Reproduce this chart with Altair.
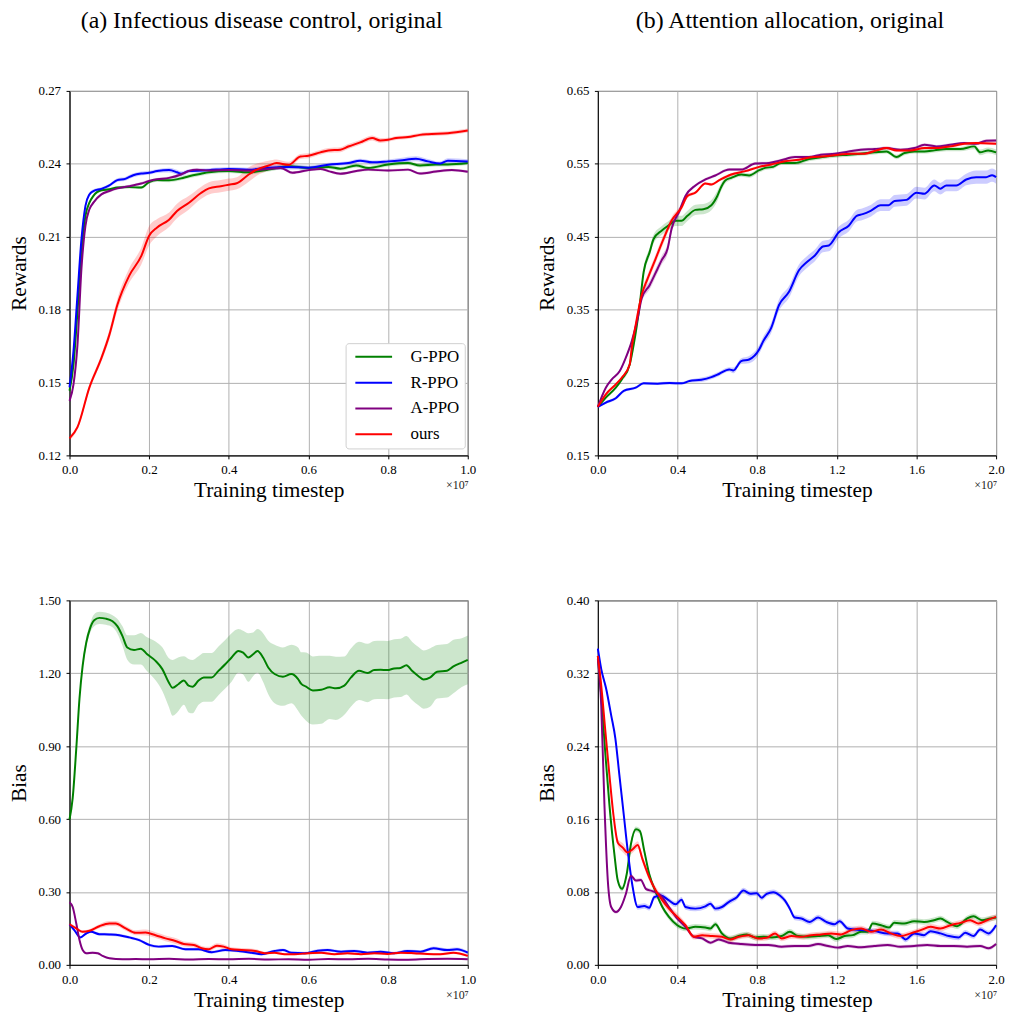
import altair as alt
import pandas as pd

SERIES = ["G-PPO", "R-PPO", "A-PPO", "ours"]
COLORS = ["#008000", "#0000ff", "#800080", "#ff0000"]
FONT = "Liberation Serif"

# ---------------- (a) top: rewards, infectious disease control ----------------
TL_G = [(0, .1466, .001), (.01, .1574, .001), (.02, .1792, .001), (.03, .2037, .001), (.04, .2186, .001),
        (.05, .224, .0008), (.06, .2268, .0006), (.08, .2291, .0006), (.1, .2295, .0006), (.12, .2302, .0006),
        (.15, .2304, .0006), (.18, .2302, .0006), (.2, .2325, .0007), (.22, .2333, .0008), (.25, .2332, .0008),
        (.28, .234, .0008), (.3, .2349, .0008), (.33, .2359, .0008), (.35, .2365, .0008), (.4, .237, .0008),
        (.45, .2365, .0008), (.5, .2376, .0008), (.55, .239, .0008), (.6, .2383, .0008), (.65, .2387, .0008),
        (.68, .238, .0008), (.72, .2393, .0008), (.75, .2383, .0008), (.8, .2397, .0008), (.85, .2403, .0008),
        (.88, .2393, .0008), (.92, .2397, .0008), (.95, .2397, .0008), (1.0, .2403, .0008)]
TL_B = [(0, .148, .001), (.01, .163, .001), (.02, .186, .001), (.03, .209, .001), (.04, .2227, .001),
        (.05, .2274, .0008), (.06, .2288, .0007), (.08, .2297, .0007), (.1, .2311, .0007), (.12, .2333, .0008),
        (.14, .2338, .0008), (.16, .2353, .0008), (.18, .236, .0008), (.2, .2363, .0008), (.22, .237, .0008),
        (.25, .2374, .001), (.27, .2365, .001), (.28, .2359, .001), (.3, .237, .0008), (.35, .2374, .0008),
        (.4, .2379, .0008), (.45, .2376, .0008), (.5, .2384, .001), (.55, .2387, .001), (.6, .2384, .0008),
        (.65, .2396, .0008), (.7, .2403, .0008), (.73, .2413, .0008), (.76, .2406, .0008), (.8, .241, .0008),
        (.83, .2414, .001), (.87, .2421, .001), (.9, .241, .001), (.93, .2401, .0008), (.95, .2413, .001),
        (1.0, .2409, .001)]
TL_A = [(0, .1424, .001), (.01, .1492, .001), (.02, .1656, .001), (.03, .1969, .001), (.04, .2145, .001),
        (.05, .2213, .0008), (.06, .224, .0007), (.08, .2274, .0006), (.1, .2288, .0006), (.12, .2299, .0006),
        (.15, .2308, .0006), (.18, .2319, .0006), (.2, .2329, .0006), (.22, .2336, .0006), (.25, .2342, .0006),
        (.28, .2356, .0006), (.3, .2371, .0006), (.32, .2376, .0006), (.35, .2372, .0006), (.4, .2374, .0006),
        (.45, .2372, .0006), (.5, .2379, .0006), (.53, .2383, .0006), (.56, .2363, .0006), (.6, .2374, .0006),
        (.63, .2379, .0006), (.65, .237, .0006), (.68, .2359, .0006), (.72, .237, .0006), (.75, .2376, .0006),
        (.8, .2372, .0006), (.85, .2376, .0006), (.88, .236, .0006), (.92, .2368, .0006), (.96, .2374, .0006),
        (1.0, .2367, .0006)]
TL_R = [(0, .127, .001), (.02, .1316, .001), (.05, .148, .0012), (.08, .160, .0015), (.1, .1696, .002),
        (.12, .1819, .0025), (.15, .194, .003), (.18, .202, .0035), (.2, .2104, .004), (.22, .2138, .0035),
        (.25, .217, .003), (.27, .2206, .003), (.3, .224, .0028), (.33, .228, .0025), (.35, .2299, .0025),
        (.38, .2308, .0025), (.4, .2314, .0025), (.42, .232, .0025), (.45, .2356, .003), (.47, .2376, .0025),
        (.5, .2393, .002), (.52, .2403, .0015), (.55, .2396, .0012), (.58, .243, .001), (.6, .2433, .001),
        (.63, .2447, .001), (.65, .2455, .001), (.68, .2458, .001), (.7, .2471, .001), (.73, .2488, .001),
        (.76, .2506, .001), (.78, .2496, .001), (.8, .2499, .0008), (.82, .2506, .0008), (.85, .251, .0008),
        (.88, .2519, .0008), (.9, .2522, .0008), (.95, .2526, .0008), (1.0, .2537, .0008)]

# ---------------- (b) top: rewards, attention allocation ----------------
TR_G = [(0, .2166, .002), (.04, .2293, .002), (.09, .2429, .002), (.12, .2542, .003), (.16, .2746, .004),
        (.18, .3019, .005), (.21, .3563, .006), (.23, .4016, .006), (.26, .4288, .006), (.28, .4469, .006),
        (.32, .4582, .006), (.36, .4664, .006), (.39, .4718, .007), (.42, .4718, .007), (.45, .4787, .007),
        (.49, .4868, .007), (.53, .4877, .007), (.57, .4932, .007), (.6, .5059, .007), (.62, .5185, .005),
        (.64, .5271, .004), (.67, .5308, .003), (.72, .5353, .003), (.76, .534, .003), (.81, .5412, .003),
        (.84, .5444, .003), (.88, .5458, .003), (.92, .5512, .003), (.99, .5512, .003), (1.06, .5566, .003),
        (1.12, .5589, .003), (1.19, .5612, .003), (1.26, .5625, .003), (1.32, .5639, .003), (1.39, .5657, .003),
        (1.45, .567, .003), (1.5, .5593, .003), (1.54, .5648, .003), (1.59, .567, .003), (1.64, .567, .003),
        (1.69, .5684, .003), (1.75, .5702, .003), (1.82, .5702, .003), (1.89, .5739, .004), (1.92, .5657, .004),
        (1.96, .5684, .004), (2.0, .5657, .004)]
TR_B = [(0, .2166, .002), (.04, .2225, .002), (.09, .2284, .002), (.13, .2384, .002), (.19, .2429, .002),
        (.23, .2488, .002), (.3, .2484, .002), (.36, .2493, .002), (.42, .2488, .002), (.46, .252, .002),
        (.52, .2538, .003), (.57, .2574, .003), (.61, .262, .003), (.66, .2679, .003), (.68, .2665, .004),
        (.72, .2792, .004), (.76, .2815, .005), (.81, .2951, .006), (.83, .3064, .006), (.87, .3245, .007),
        (.91, .3563, .008), (.96, .3744, .008), (1.01, .4039, .008), (1.05, .4152, .008), (1.09, .4243, .008),
        (1.13, .4365, .008), (1.16, .4379, .008), (1.21, .456, .008), (1.26, .4651, .008), (1.3, .4787, .008),
        (1.33, .4809, .008), (1.37, .4855, .008), (1.42, .4932, .008), (1.46, .4932, .008), (1.49, .4991, .008),
        (1.55, .5005, .008), (1.6, .5104, .008), (1.64, .509, .008), (1.69, .5203, .008), (1.72, .5158, .008),
        (1.75, .5203, .008), (1.8, .5203, .008), (1.85, .5285, .008), (1.9, .5317, .009), (1.95, .5317, .009),
        (1.98, .5344, .009), (2.0, .5317, .009)]
TR_A = [(0, .2166, .002), (.04, .2429, .002), (.07, .2542, .002), (.11, .2656, .002), (.14, .2837, .002),
        (.17, .3064, .003), (.2, .3381, .004), (.22, .3653, .005), (.26, .3835, .006), (.3, .4061, .006),
        (.32, .4175, .006), (.35, .4333, .007), (.37, .4605, .006), (.41, .4855, .005), (.44, .5059, .003),
        (.49, .5203, .002), (.54, .5285, .002), (.59, .534, .002), (.66, .5421, .002), (.72, .5421, .002),
        (.79, .5503, .002), (.86, .5512, .002), (.92, .5548, .002), (.99, .5593, .002), (1.06, .5593, .002),
        (1.12, .5625, .002), (1.19, .5639, .002), (1.26, .567, .002), (1.32, .5693, .002), (1.39, .5702, .002),
        (1.45, .5716, .002), (1.52, .5693, .002), (1.59, .5716, .002), (1.64, .5761, .002), (1.7, .5739, .002),
        (1.77, .5761, .002), (1.84, .5784, .002), (1.9, .5775, .002), (1.95, .5816, .002), (2.0, .582, .002)]
TR_R = [(0, .2166, .002), (.04, .2338, .002), (.09, .2475, .002), (.12, .2565, .002), (.16, .2746, .003),
        (.17, .2973, .004), (.19, .329, .005), (.22, .3699, .006), (.25, .3925, .006), (.29, .4197, .006),
        (.33, .4469, .006), (.37, .4718, .005), (.42, .49, .004), (.45, .5059, .003), (.49, .5104, .002),
        (.54, .5231, .002), (.57, .5217, .002), (.61, .5276, .002), (.67, .5353, .002), (.74, .5399, .002),
        (.81, .5458, .002), (.87, .549, .002), (.94, .5535, .002), (1.01, .5557, .002), (1.07, .5589, .002),
        (1.14, .5603, .002), (1.21, .5625, .002), (1.27, .5639, .002), (1.34, .5639, .002), (1.4, .5684, .002),
        (1.45, .5716, .002), (1.5, .5684, .002), (1.57, .5684, .002), (1.64, .5716, .002), (1.7, .5716, .002),
        (1.77, .5739, .002), (1.84, .5775, .002), (1.9, .5784, .002), (2.0, .5775, .002)]

# ---------------- (a) bottom: bias, infectious disease control ----------------
BL_G = [(0, .598, .01), (.008, .687, .01), (.017, .891, .015), (.025, 1.095, .015), (.033, 1.231, .02),
        (.042, 1.326, .02), (.052, 1.387, .02), (.062, 1.418, .025), (.075, 1.428, .025), (.091, 1.425, .025),
        (.108, 1.414, .025), (.12, 1.394, .03), (.133, 1.353, .04), (.145, 1.306, .05), (.162, 1.296, .06),
        (.179, 1.301, .065), (.195, 1.278, .07), (.216, 1.251, .08), (.233, 1.217, .09), (.249, 1.163, .1),
        (.259, 1.14, .115), (.274, 1.156, .11), (.287, 1.17, .1), (.299, 1.149, .11), (.309, 1.145, .11),
        (.324, 1.17, .1), (.337, 1.183, .1), (.357, 1.183, .1), (.374, 1.21, .1), (.391, 1.237, .1),
        (.407, 1.265, .1), (.424, 1.292, .09), (.436, 1.285, .09), (.449, 1.265, .1), (.461, 1.278, .09),
        (.472, 1.292, .09), (.486, 1.265, .1), (.499, 1.224, .11), (.515, 1.197, .12), (.536, 1.186, .12),
        (.557, 1.197, .12), (.574, 1.176, .13), (.582, 1.156, .13), (.594, 1.145, .14), (.611, 1.129, .14),
        (.632, 1.132, .14), (.653, 1.142, .13), (.669, 1.138, .13), (.69, 1.149, .12), (.707, 1.183, .12),
        (.727, 1.21, .12), (.748, 1.201, .12), (.765, 1.213, .12), (.781, 1.214, .12), (.798, 1.213, .12),
        (.815, 1.22, .12), (.831, 1.222, .12), (.846, 1.233, .12), (.86, 1.21, .12), (.877, 1.187, .12),
        (.889, 1.174, .12), (.906, 1.183, .12), (.923, 1.206, .11), (.948, 1.21, .11), (.964, 1.228, .11),
        (.985, 1.244, .1), (1.0, 1.255, .1)]
BL_B = [(0, .167, .005), (.012, .143, .005), (.027, .113, .005), (.042, .129, .005), (.054, .136, .005),
        (.075, .126, .006), (.1, .125, .006), (.125, .122, .006), (.15, .113, .006), (.175, .102, .006),
        (.2, .082, .006), (.224, .075, .006), (.258, .078, .006), (.291, .064, .006), (.324, .064, .006),
        (.357, .052, .006), (.391, .061, .006), (.424, .057, .006), (.457, .05, .006), (.482, .044, .006),
        (.515, .057, .006), (.536, .061, .006), (.557, .05, .006), (.59, .048, .006), (.623, .058, .006),
        (.648, .061, .006), (.682, .054, .006), (.715, .057, .006), (.748, .05, .006), (.781, .054, .006),
        (.815, .048, .006), (.848, .057, .006), (.881, .054, .006), (.914, .068, .007), (.948, .061, .007),
        (.973, .064, .007), (1.0, .05, .007)]
BL_A = [(0, .258, .005), (.008, .238, .005), (.017, .17, .005), (.025, .102, .005), (.033, .061, .005),
        (.042, .048, .005), (.058, .05, .005), (.071, .048, .005), (.083, .037, .004), (.1, .027, .004),
        (.133, .023, .003), (.166, .024, .003), (.2, .023, .003), (.25, .025, .003), (.3, .022, .003),
        (.35, .024, .003), (.4, .023, .003), (.45, .025, .003), (.5, .022, .003), (.55, .023, .003),
        (.6, .021, .003), (.65, .024, .003), (.7, .023, .003), (.75, .025, .003), (.8, .022, .003),
        (.85, .021, .003), (.9, .024, .003), (.95, .025, .003), (1.0, .023, .003)]
BL_R = [(0, .167, .006), (.017, .15, .006), (.033, .136, .006), (.05, .14, .007), (.075, .159, .008),
        (.1, .17, .01), (.116, .17, .01), (.141, .15, .01), (.166, .132, .01), (.191, .133, .012),
        (.216, .122, .012), (.241, .109, .012), (.266, .098, .012), (.287, .086, .01), (.312, .082, .01),
        (.332, .068, .01), (.349, .064, .01), (.37, .079, .01), (.387, .075, .01), (.407, .064, .008),
        (.432, .061, .008), (.466, .057, .008), (.49, .048, .006), (.515, .05, .005), (.54, .044, .005),
        (.565, .044, .005), (.599, .048, .005), (.632, .05, .005), (.665, .044, .005), (.698, .048, .005),
        (.732, .044, .005), (.765, .048, .005), (.798, .045, .005), (.831, .05, .005), (.865, .048, .005),
        (.898, .045, .005), (.931, .044, .005), (.964, .05, .005), (1.0, .037, .005)]

# ---------------- (b) bottom: bias, attention allocation ----------------
BR_G = [(0, .339, .003), (.017, .2956, .003), (.038, .2303, .003), (.058, .1759, .003), (.083, .1215, .003),
        (.1, .0925, .003), (.121, .0834, .003), (.145, .0997, .003), (.166, .1324, .003), (.191, .1487, .003),
        (.211, .1469, .003), (.233, .1251, .003), (.258, .0997, .003), (.291, .0798, .003), (.324, .0635, .003),
        (.357, .0526, .003), (.399, .0435, .003), (.44, .0399, .003), (.49, .0417, .003), (.54, .041, .003),
        (.565, .0399, .003), (.59, .0446, .003), (.623, .0345, .003), (.665, .029, .003), (.707, .0316, .003),
        (.748, .0334, .003), (.79, .0301, .003), (.831, .0308, .003), (.873, .0301, .003), (.923, .0316, .003),
        (.964, .0363, .003), (1.006, .0316, .003), (1.056, .0308, .003), (1.106, .0316, .003), (1.156, .0326, .003),
        (1.197, .0283, .003), (1.239, .0316, .003), (1.28, .0326, .003), (1.322, .0363, .003), (1.355, .0363, .003),
        (1.38, .0453, .003), (1.422, .0435, .003), (1.463, .041, .003), (1.488, .0461, .003), (1.538, .0453, .003),
        (1.588, .0479, .003), (1.638, .0471, .003), (1.688, .049, .003), (1.721, .0508, .003), (1.754, .0471, .003),
        (1.804, .0424, .003), (1.854, .0508, .003), (1.887, .0533, .003), (1.929, .049, .003), (1.971, .0508, .003),
        (2.0, .0519, .003)]
BR_B = [(0, .347, .003), (.017, .3246, .003), (.042, .3028, .003), (.067, .2738, .003), (.088, .2484, .003),
        (.108, .2085, .003), (.13, .165, .003), (.15, .1251, .003), (.175, .0852, .003), (.2, .0635, .003),
        (.233, .0646, .003), (.258, .0627, .003), (.283, .0743, .003), (.316, .0762, .003), (.357, .0707, .003),
        (.39, .0664, .003), (.42, .0714, .003), (.44, .0635, .003), (.49, .0617, .003), (.54, .0642, .003),
        (.565, .0671, .003), (.59, .0617, .003), (.623, .0635, .003), (.657, .0689, .003), (.698, .0743, .003),
        (.731, .0816, .003), (.765, .078, .003), (.798, .0787, .003), (.823, .0736, .003), (.848, .078, .003),
        (.881, .0798, .003), (.914, .0762, .003), (.939, .0707, .003), (.964, .0617, .003), (.989, .0519, .003),
        (1.022, .0508, .003), (1.064, .0471, .003), (1.106, .0519, .003), (1.147, .0471, .003), (1.189, .0446, .003),
        (1.214, .0479, .003), (1.255, .0399, .003), (1.322, .0381, .003), (1.388, .037, .003), (1.455, .0345, .003),
        (1.505, .0345, .003), (1.546, .0279, .003), (1.588, .0345, .003), (1.638, .0326, .003), (1.671, .037, .003),
        (1.721, .0345, .003), (1.763, .0316, .003), (1.812, .0301, .003), (1.845, .0352, .003), (1.887, .0316, .003),
        (1.92, .0388, .003), (1.962, .0345, .003), (2.0, .0435, .003)]
BR_A = [(0, .3354, .002), (.017, .2847, .002), (.033, .1759, .002), (.05, .0925, .002), (.067, .0635, .002),
        (.091, .058, .002), (.116, .0635, .002), (.141, .078, .002), (.166, .0979, .002), (.191, .0925, .002),
        (.216, .0932, .002), (.241, .0834, .002), (.274, .0809, .002), (.316, .0762, .002), (.357, .0635, .002),
        (.399, .0508, .002), (.44, .0417, .002), (.482, .0308, .002), (.524, .029, .002), (.565, .0243, .002),
        (.607, .0279, .002), (.657, .0243, .002), (.723, .0228, .002), (.79, .0218, .002), (.856, .0218, .002),
        (.923, .0199, .002), (.989, .0207, .002), (1.056, .0207, .002), (1.106, .0228, .002), (1.156, .0207, .002),
        (1.206, .0189, .002), (1.255, .0207, .002), (1.322, .0192, .002), (1.388, .0207, .002), (1.455, .0218, .002),
        (1.521, .0199, .002), (1.588, .0207, .002), (1.654, .0218, .002), (1.721, .0207, .002), (1.787, .0207, .002),
        (1.854, .0199, .002), (1.92, .0207, .002), (1.962, .0181, .002), (2.0, .0228, .002)]
BR_R = [(0, .339, .003), (.017, .3065, .003), (.038, .2557, .003), (.058, .2085, .003), (.078, .165, .004),
        (.1, .1342, .004), (.125, .1287, .005), (.15, .1233, .004), (.175, .1269, .004), (.2, .1316, .004),
        (.224, .116, .004), (.258, .0961, .004), (.291, .0816, .004), (.324, .0707, .004), (.357, .0617, .004),
        (.399, .0526, .004), (.44, .0435, .003), (.482, .0308, .003), (.524, .0326, .003), (.574, .0316, .003),
        (.623, .0308, .003), (.665, .0279, .003), (.707, .0308, .003), (.756, .0326, .003), (.806, .029, .003),
        (.848, .0297, .003), (.89, .0345, .003), (.923, .029, .003), (.973, .0316, .003), (1.022, .0308, .003),
        (1.072, .0326, .003), (1.122, .0334, .003), (1.172, .0345, .003), (1.222, .0334, .003), (1.272, .0381, .003),
        (1.322, .0399, .003), (1.372, .0363, .003), (1.422, .0388, .003), (1.471, .0345, .003), (1.521, .0316, .003),
        (1.571, .0345, .003), (1.621, .0381, .003), (1.671, .0417, .003), (1.721, .0399, .003), (1.771, .0435, .003),
        (1.821, .0461, .003), (1.87, .049, .003), (1.912, .0453, .003), (1.954, .049, .003), (2.0, .0526, .003)]

X_TICKS_A = [0.0, 0.2, 0.4, 0.6, 0.8, 1.0]
X_TICKS_B = [0.0, 0.4, 0.8, 1.2, 1.6, 2.0]
Y_TICKS_TL = [0.12, 0.15, 0.18, 0.21, 0.24, 0.27]
Y_TICKS_TR = [0.15, 0.25, 0.35, 0.45, 0.55, 0.65]
Y_TICKS_BL = [0.0, 0.3, 0.6, 0.9, 1.2, 1.5]
Y_TICKS_BR = [0.0, 0.08, 0.16, 0.24, 0.32, 0.40]
SCALE_NOTE = "\u00d710\u2077"

W, H = 401, 367


def frame(pts, name):
    df = pd.DataFrame(pts, columns=["x", "y", "e"])
    df["lo"] = df["y"] - df["e"]
    df["hi"] = df["y"] + df["e"]
    df["s"] = name
    return df


def panel(series, xmax, xticks, ydom, yticks, ytitle, title=None, legend=False):
    xenc = alt.X("x:Q", scale=alt.Scale(domain=[0, xmax], nice=False, zero=False),
                 axis=alt.Axis(values=xticks, format=".1f", title="Training timestep",
                               labelFlush=False, labelOverlap=False, labelPadding=5, titlePadding=3))
    yscale = alt.Scale(domain=ydom, nice=False, zero=False)
    yaxis = alt.Axis(values=yticks, format=".2f", title=ytitle, labelFlush=False,
                     labelOverlap=False, labelPadding=5.5, titlePadding=8)
    stroke_scale = alt.Scale(domain=SERIES, range=COLORS)
    if legend:
        leg = alt.Legend(orient="none", legendX=278, legendY=254, title=None,
                         symbolType="M-1,0H8.25", symbolSize=64, symbolStrokeWidth=2,
                         labelFont=FONT, labelFontSize=17, labelColor="black",
                         labelOffset=43, padding=5.3, rowPadding=8,
                         strokeColor="#d0d0d0", fillColor="white", cornerRadius=3)
    else:
        leg = None
    bands, lines = [], []
    for name, col, pts in zip(SERIES, COLORS, series):
        df = frame(pts, name)
        bands.append(alt.Chart(df).mark_area(opacity=0.2, color=col, interpolate="monotone").encode(
            x=xenc, y=alt.Y("lo:Q", scale=yscale, axis=yaxis), y2="hi:Q"))
        lines.append(alt.Chart(df).mark_line(strokeWidth=2, interpolate="monotone").encode(
            x=xenc, y=alt.Y("y:Q", scale=yscale, axis=yaxis),
            stroke=alt.Stroke("s:N", scale=stroke_scale, legend=leg)))
    note = alt.Chart(pd.DataFrame({"t": [SCALE_NOTE]})).mark_text(
        font=FONT, fontSize=12, align="right", baseline="middle", color="#222222").encode(
        x=alt.value(W + 1), y=alt.value(H + 30), text="t:N")
    ch = alt.layer(*bands, *lines, note).properties(width=W, height=H)
    if title:
        ch = ch.properties(title=alt.TitleParams(title, font=FONT, fontSize=24, fontWeight="normal",
                                                 color="black", anchor="middle", dx=-7, offset=52))
    return ch


tl = panel([TL_G, TL_B, TL_A, TL_R], 1.0, X_TICKS_A, [0.12, 0.27], Y_TICKS_TL, "Rewards",
           title="(a) Infectious disease control, original", legend=True)
tr = panel([TR_G, TR_B, TR_A, TR_R], 2.0, X_TICKS_B, [0.15, 0.65], Y_TICKS_TR, "Rewards",
           title="(b) Attention allocation, original")
bl = panel([BL_G, BL_B, BL_A, BL_R], 1.0, X_TICKS_A, [0.0, 1.5], Y_TICKS_BL, "Bias")
br = panel([BR_G, BR_B, BR_A, BR_R], 2.0, X_TICKS_B, [0.0, 0.4], Y_TICKS_BR, "Bias")

chart = alt.concat(tl, tr, bl, br, columns=2, spacing=alt.RowColnumber(row=146, column=131),
                   bounds="flush").resolve_scale(
    stroke="independent", x="independent", y="independent"
).properties(
    padding={"left": 7, "top": 5, "right": 5, "bottom": 5}
).configure_view(
    stroke="black", strokeWidth=1
).configure_axis(
    labelFont=FONT, labelFontSize=13, labelColor="black",
    titleFont=FONT, titleFontSize=21.5, titleFontWeight="normal", titleColor="black",
    gridColor="#b0b0b0", gridWidth=1, domainColor="black", domainWidth=1,
    tickColor="black", tickSize=3.5, tickWidth=1
)

chart.save("out.html", embed_options={"renderer": "svg", "actions": False})
